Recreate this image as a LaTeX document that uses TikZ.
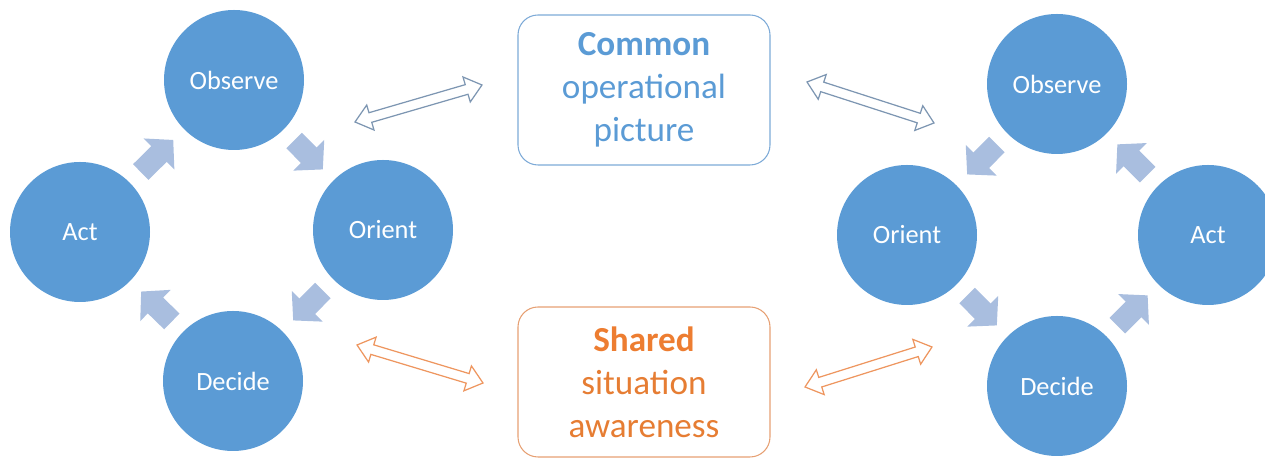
\documentclass[tikz,border=0pt]{standalone}
\usepackage{fontspec}
\setmainfont{Carlito}
\usepackage{xcolor}
\usepackage{tikz}
\usetikzlibrary{arrows.meta, positioning, calc}
\definecolor{phasecolor}{RGB}{91,155,213}
\definecolor{cyclecolor}{RGB}{169,190,223}
\definecolor{copcolor}{RGB}{91,155,213}
\definecolor{copboxcolor}{RGB}{125,170,215}
\definecolor{coplinecolor}{RGB}{125,150,178}
\definecolor{ssacolor}{RGB}{237,125,49}
\definecolor{ssaboxcolor}{RGB}{230,160,115}
\definecolor{ssalinecolor}{RGB}{238,150,95}

% outlined double-headed arrow between two coordinates
\newcommand{\hollowarrow}[3]{%
  \draw[#3, fill=white, line width=0.7pt]
    (#1) -- ($(#1)!0.32cm!(#2)!0.26cm!90:(#2)$)
    -- ($(#1)!0.32cm!(#2)!0.10cm!90:(#2)$)
    -- ($(#2)!0.32cm!(#1)!0.10cm!-90:(#1)$)
    -- ($(#2)!0.32cm!(#1)!0.26cm!-90:(#1)$)
    -- (#2)
    -- ($(#2)!0.32cm!(#1)!0.26cm!90:(#1)$)
    -- ($(#2)!0.32cm!(#1)!0.10cm!90:(#1)$)
    -- ($(#1)!0.32cm!(#2)!0.10cm!-90:(#2)$)
    -- ($(#1)!0.32cm!(#2)!0.26cm!-90:(#2)$)
    -- cycle;}

\begin{document}
\begin{tikzpicture}[
    phase/.style={circle, fill=phasecolor, minimum size=2.8cm, inner sep=0pt, text=white, font=\fontsize{15}{18}\selectfont},
    infobox/.style={draw=#1, line width=0.6pt, rounded corners=0.4cm, minimum width=5.04cm, minimum height=3cm, align=center, font=\fontsize{20}{24.5}\selectfont},
    cyclearrow/.style={-{Triangle[width=0.85cm, length=0.4cm]}, line width=0.44cm, draw=cyclecolor, shorten <=0.3cm, shorten >=0.3cm}
]
    \useasboundingbox (0,0) rectangle (25.3,9.16);
    \clip (0,0) rectangle (25.3,9.16);

    % Left loop
    \node[phase] (obsl) at (4.68,7.56) {Observe};
    \node[phase] (oril) at (7.66,4.56) {Orient};
    \node[phase] (decl) at (4.66,1.54) {Decide};
    \node[phase] (actl) at (1.60,4.52) {Act};

    % Right loop
    \node[phase] (obsr) at (21.14,7.48) {Observe};
    \node[phase] (orir) at (18.14,4.46) {Orient};
    \node[phase] (decr) at (21.14,1.44) {Decide};
    \node[phase] (actr) at (24.16,4.46) {Act};

    % Middle boxes
    \node[infobox=copboxcolor, text=copcolor] (cop) at (12.88,7.36) {\textbf{Common}\\operational\\picture};
    \node[infobox=ssaboxcolor, text=ssacolor] (ssa) at (12.88,1.52) {\textbf{Shared}\\\color{ssacolor!85!brown}situation\\\color{ssacolor!85!brown}awareness};

    % Loop arrows
    \draw[cyclearrow] (obsl) -- (oril);
    \draw[cyclearrow] (oril) -- (decl);
    \draw[cyclearrow] (decl) -- (actl);
    \draw[cyclearrow] (actl) -- (obsl);
    \draw[cyclearrow] (obsr) -- (orir);
    \draw[cyclearrow] (orir) -- (decr);
    \draw[cyclearrow] (decr) -- (actr);
    \draw[cyclearrow] (actr) -- (obsr);

    % Exchange arrows
    \coordinate (copl1) at (7.10,6.72);
    \coordinate (copl2) at (9.64,7.46);
    \coordinate (ssal1) at (7.14,2.26);
    \coordinate (ssal2) at (9.66,1.50);
    \coordinate (copr1) at (16.14,7.52);
    \coordinate (copr2) at (18.68,6.70);
    \coordinate (ssar1) at (16.10,1.42);
    \coordinate (ssar2) at (18.64,2.22);
    \hollowarrow{copl1}{copl2}{coplinecolor}
    \hollowarrow{ssal1}{ssal2}{ssalinecolor}
    \hollowarrow{copr1}{copr2}{coplinecolor}
    \hollowarrow{ssar1}{ssar2}{ssalinecolor}
\end{tikzpicture}
\end{document}
